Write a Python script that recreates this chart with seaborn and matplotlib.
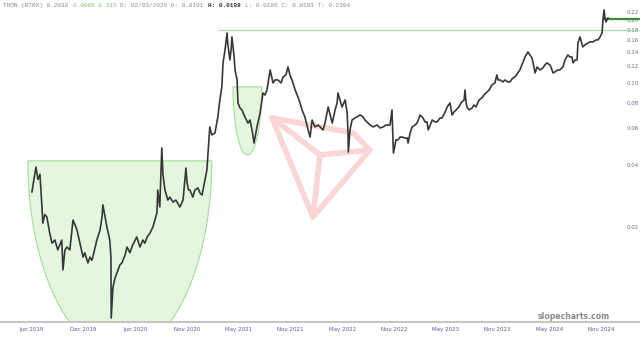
import numpy as np
import pandas as pd
import matplotlib
matplotlib.use("Agg")
import matplotlib.pyplot as plt
from matplotlib.ticker import NullLocator, NullFormatter
import seaborn as sns

# ---------------- data (bar number, close) ----------------
bar = [0, 7, 14, 21, 28, 35, 38, 45, 52, 61, 70, 80, 90, 104, 108, 115, 122, 132, 143, 150,
       157, 167, 178, 184, 195, 202, 209, 218, 226, 237, 244, 247, 254, 261, 271, 275, 276, 282, 289, 296,
       306, 313, 324, 331, 341, 351, 365, 376, 386, 393, 402, 411, 421, 428, 435, 438, 445, 452, 456, 463,
       473, 480, 491, 501, 515, 526, 536, 540, 545, 550, 560, 567, 578, 585, 592, 602, 609, 613, 619, 626,
       637, 647, 654, 661, 665, 672, 679, 682, 689, 693, 696, 703, 707, 714, 717, 724, 731, 741, 752, 759,
       766, 773, 783, 794, 804, 811, 818, 829, 839, 846, 856, 867, 874, 884, 891, 898, 905, 916, 923, 933,
       940, 950, 961, 968, 975, 985, 996, 1003, 1013, 1020, 1031, 1038, 1045, 1055, 1062, 1065, 1072, 1079, 1090, 1097,
       1100, 1101, 1107, 1114, 1124, 1131, 1142, 1152, 1159, 1170, 1177, 1187, 1201, 1212, 1222, 1232, 1246, 1253, 1257, 1258,
       1267, 1274, 1281, 1288, 1299, 1306, 1309, 1316, 1323, 1333, 1340, 1351, 1361, 1368, 1375, 1379, 1386, 1393, 1403, 1410,
       1420, 1427, 1438, 1445, 1455, 1462, 1469, 1476, 1486, 1493, 1504, 1507, 1511, 1514, 1521, 1532, 1538, 1545, 1556, 1566,
       1573, 1584, 1591, 1601, 1611, 1618, 1622, 1629, 1639, 1646, 1656, 1663, 1674, 1681, 1691, 1698, 1705, 1716, 1726, 1733,
       1740, 1744, 1751, 1758, 1768, 1778, 1785, 1792, 1803, 1810, 1813, 1820, 1830, 1837, 1848, 1855, 1865, 1872, 1879, 1883,
       1890, 1897, 1900, 1907, 1917, 1924, 1935, 1942, 1952, 1963, 1970, 1977, 1984, 1987, 1991, 1994, 1998, 2001, 2005]
close = [0.0295, 0.0338, 0.0390, 0.0340, 0.0360, 0.0250, 0.0209, 0.0230, 0.0224, 0.0190, 0.0167, 0.0173, 0.0155, 0.0173, 0.0124, 0.0155, 0.0160, 0.0155, 0.0216, 0.0205,
         0.0193, 0.0167, 0.0143, 0.0150, 0.0134, 0.0143, 0.0138, 0.0155, 0.0173, 0.0193, 0.0224, 0.0256, 0.0226, 0.0200, 0.0173, 0.0143, 0.00725, 0.0102, 0.0113, 0.0120,
         0.0131, 0.0134, 0.0146, 0.0160, 0.0150, 0.0164, 0.0179, 0.0160, 0.0173, 0.0167, 0.0180, 0.0187, 0.0200, 0.0216, 0.0234, 0.0302, 0.0250, 0.0483, 0.0360, 0.0302,
         0.0270, 0.0279, 0.0264, 0.0270, 0.0250, 0.0270, 0.0386, 0.0327, 0.0302, 0.0302, 0.0279, 0.0302, 0.0309, 0.0292, 0.0286, 0.0338, 0.0378, 0.0456, 0.0610, 0.0558,
         0.0570, 0.0682, 0.0824, 0.0953, 0.1245, 0.1438, 0.1739, 0.1521, 0.1287, 0.1438, 0.1663, 0.1361, 0.1151, 0.1030, 0.0797, 0.0754, 0.0737, 0.0682, 0.0637, 0.0659,
         0.0590, 0.0510, 0.0610, 0.0713, 0.0891, 0.0871, 0.0921, 0.1151, 0.0996, 0.1030, 0.1030, 0.0996, 0.1065, 0.1089, 0.1190, 0.1089, 0.1030, 0.0921, 0.0871, 0.0797,
         0.0737, 0.0682, 0.0590, 0.0545, 0.0659, 0.0610, 0.0623, 0.0610, 0.0590, 0.0637, 0.0762, 0.0697, 0.0637, 0.0737, 0.0797, 0.0891, 0.0824, 0.0762, 0.0824, 0.0713,
         0.0570, 0.0461, 0.0590, 0.0659, 0.0674, 0.0682, 0.0697, 0.0682, 0.0659, 0.0637, 0.0623, 0.0610, 0.0623, 0.0603, 0.0610, 0.0623, 0.0623, 0.0737, 0.0510, 0.0456,
         0.0528, 0.0528, 0.0545, 0.0545, 0.0539, 0.0539, 0.0510, 0.0570, 0.0610, 0.0623, 0.0637, 0.0697, 0.0674, 0.0645, 0.0645, 0.0590, 0.0623, 0.0659, 0.0645, 0.0645,
         0.0674, 0.0674, 0.0721, 0.0762, 0.0797, 0.0697, 0.0721, 0.0737, 0.0762, 0.0797, 0.0824, 0.0921, 0.0797, 0.0762, 0.0737, 0.0754, 0.0779, 0.0762, 0.0824, 0.0843,
         0.0871, 0.0901, 0.0921, 0.0974, 0.0996, 0.1089, 0.1030, 0.1030, 0.1007, 0.1030, 0.1007, 0.1007, 0.1053, 0.1065, 0.1114, 0.1151, 0.1217, 0.1331, 0.1407, 0.1361,
         0.1316, 0.1245, 0.1114, 0.1190, 0.1151, 0.1177, 0.1217, 0.1245, 0.1217, 0.1151, 0.1114, 0.1126, 0.1151, 0.1151, 0.1190, 0.1287, 0.1361, 0.1331, 0.1331, 0.1245,
         0.1287, 0.1287, 0.1555, 0.1663, 0.1488, 0.1521, 0.1555, 0.1573, 0.1573, 0.1609, 0.1609, 0.1663, 0.1739, 0.2011, 0.2247, 0.2056, 0.1966, 0.2011, 0.2056]

tick_bars = [0, 180, 360, 540, 720, 900, 1080, 1260, 1440, 1620, 1800, 1980]
tick_labels = ["Jun 2019", "Dec 2019", "Jun 2020", "Nov 2020", "May 2021", "Nov 2021",
               "May 2022", "Nov 2022", "May 2023", "Nov 2023", "May 2024", "Nov 2024"]
y_ticks = [0.02, 0.04, 0.06, 0.08, 0.10, 0.12, 0.14, 0.16, 0.18, 0.20, 0.22]
y_tick_labels = ["0.02", "0.04", "0.06", "0.08", "0.10", "0.12", "0.14", "0.16", "0.18", "0.20", "0.22"]

# annotations: cups (left bar, right bar, rim price, bottom price) and horizontal levels
cups = [(-14, 626, 0.0418, 0.0049), (700, 800, 0.0953, 0.0446)]
resistance = (647, 0.18)
last_level = (1987, 0.202)

df = pd.DataFrame({"bar": bar, "close": close})

# ---------------- figure ----------------
sns.set_style("white")
plt.rcParams["font.family"] = ["DejaVu Sans"]

fig = plt.figure(figsize=(6.4, 3.38), dpi=100)
ax = fig.add_axes([0, 16 / 338, 1, 322 / 338])
ax.set_yscale("log")
XMIN, XMAX = -111, 2116
ax.set_xlim(XMIN, XMAX)
ax.set_ylim(0.00694, 0.251)

# TRON logo watermark (axes fraction)
logo_col = "#fad6d6"
outer = [(0.425, 0.634), (0.552, 0.587), (0.578, 0.534), (0.489, 0.326), (0.425, 0.634)]
inner = (0.500, 0.519)
ox, oy = zip(*outer)
ax.plot(ox, oy, color=logo_col, lw=4.0, transform=ax.transAxes, zorder=0.5,
        solid_joinstyle="round")
for p in [(0.425, 0.634), (0.489, 0.326), (0.578, 0.534)]:
    ax.plot([inner[0], p[0]], [inner[1], p[1]], color=logo_col, lw=4.0,
            transform=ax.transAxes, zorder=0.5, solid_capstyle="round")

# cups
for left, right, rim, bottom in cups:
    t = np.linspace(0, np.pi, 300)
    c = (left + right) / 2
    a = (right - left) / 2
    xs = c - a * np.cos(t)
    ys = np.exp(np.log(rim) - (np.log(rim) - np.log(bottom)) * np.sin(t))
    ax.fill(xs, ys, facecolor="#e4f7de", edgecolor="#a3dc9c", lw=0.8, zorder=1)

# horizontal levels
ax.hlines(resistance[1], resistance[0], XMAX, color="#a8dea2", lw=0.9, zorder=2)
ax.hlines(last_level[1], last_level[0], XMAX, color="#3d8a3d", lw=1.6, zorder=2)

# price
sns.lineplot(data=df, x="bar", y="close", ax=ax, color="#353935", lw=1.2,
             zorder=3, estimator=None)

# axes styling
ax.set_xlabel("")
ax.set_ylabel("")
ax.set_xticks(tick_bars)
ax.set_xticklabels(tick_labels)
ax.yaxis.tick_right()
ax.set_yticks(y_ticks)
ax.set_yticklabels(y_tick_labels)
ax.yaxis.set_minor_locator(NullLocator())
ax.yaxis.set_minor_formatter(NullFormatter())
ax.tick_params(axis="y", length=0, pad=-9.4, labelsize=4, labelcolor="#6a6a96")
ax.tick_params(axis="x", length=0, pad=3.5, labelsize=4, labelcolor="#5a5aa0")
for s in ["top", "left", "right"]:
    ax.spines[s].set_visible(False)
ax.spines["bottom"].set_color("#c6c6c6")
ax.spines["bottom"].set_linewidth(1.5)

# header line
segments = [("TRON (BTRX) 0.2038 ", "#8c8c8c", "normal"),
            ("0.0006 0.31% ", "#78c078", "normal"),
            ("D: 02/03/2020 O: 0.0191 ", "#8c8c8c", "normal"),
            ("H: 0.0198 ", "#333333", "bold"),
            ("L: 0.0186 C: 0.0193 T: 0.2204", "#8c8c8c", "normal")]
fs = 4.4
cw = 0.6 * fs * 100 / 72
pos = 0
for txt, col, wt in segments:
    fig.text((3 + cw * pos) / 640, 1 - 5.5 / 338, txt, fontsize=fs, color=col,
             fontweight=wt, family=["Liberation Mono", "DejaVu Sans Mono"],
             va="center", ha="left")
    pos += len(txt)

fig.text(574 / 640, 1 - 316.5 / 338, "slopecharts.com", fontsize=5.6,
         fontweight="bold", color="#8a8a8a", ha="center", va="center")

fig.savefig("out.png", dpi=100)
